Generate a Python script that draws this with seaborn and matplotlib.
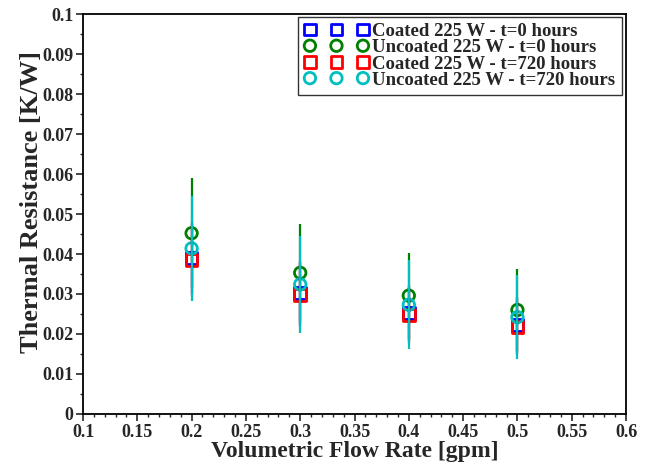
import numpy as np
import pandas as pd
import matplotlib
matplotlib.use('Agg')
import matplotlib.pyplot as plt
import seaborn as sns
from matplotlib.ticker import MultipleLocator, FuncFormatter

# Data
flow_rate = [0.2, 0.3, 0.4, 0.5]

coated_0 = [0.0390, 0.0302, 0.0252, 0.0222]
coated_0_err = [0.0090, 0.0080, 0.0070, 0.0070]

uncoated_0 = [0.0452, 0.0353, 0.0296, 0.0260]
uncoated_0_err = [0.0137, 0.0121, 0.0107, 0.0103]

coated_720 = [0.0385, 0.0298, 0.0248, 0.0217]
coated_720_err = [0.0090, 0.0080, 0.0070, 0.0070]

uncoated_720 = [0.0414, 0.0324, 0.0273, 0.0242]
uncoated_720_err = [0.0131, 0.0121, 0.0111, 0.0105]

series_names = ['Coated 225 W - t=0 hours', 'Uncoated 225 W - t=0 hours',
                'Coated 225 W - t=720 hours', 'Uncoated 225 W - t=720 hours']
series_vals = [coated_0, uncoated_0, coated_720, uncoated_720]
series_errs = [coated_0_err, uncoated_0_err, coated_720_err, uncoated_720_err]
series_colors = ['#0000ff', '#008000', '#ff0000', '#00bfbf']
series_markers = ['s', 'o', 's', 'o']

rows = []
for name, vals, errs in zip(series_names, series_vals, series_errs):
    for x, y, e in zip(flow_rate, vals, errs):
        rows.append({'flow': x, 'resistance': y, 'err': e, 'series': name})
df = pd.DataFrame(rows)

sns.set_theme(style='ticks')
plt.rcParams['font.family'] = ['Liberation Serif', 'DejaVu Serif']
plt.rcParams['font.weight'] = 'bold'

fig = plt.figure(figsize=(6.5, 4.72), dpi=100)
ax = fig.add_axes([0.1277, 0.1229, 0.9631 - 0.1277, 0.9703 - 0.1229])

for name, color, marker in zip(series_names, series_colors, series_markers):
    sub = df[df['series'] == name]
    ax.errorbar(sub['flow'], sub['resistance'], yerr=sub['err'], fmt='none',
                ecolor=color, elinewidth=1.6, capsize=0)
    sns.scatterplot(data=sub, x='flow', y='resistance', ax=ax, marker=marker,
                    s=68, facecolor='none', edgecolor=color, linewidth=2.0,
                    label=name)

ax.set_xlim(0.1, 0.6)
ax.set_ylim(0, 0.1)
ax.xaxis.set_major_locator(MultipleLocator(0.05))
ax.xaxis.set_minor_locator(MultipleLocator(0.01))
ax.yaxis.set_major_locator(MultipleLocator(0.01))
ax.yaxis.set_minor_locator(MultipleLocator(0.005))
ax.xaxis.set_major_formatter(FuncFormatter(lambda v, p: f'{v:g}'))
ax.yaxis.set_major_formatter(FuncFormatter(lambda v, p: f'{v:g}'))
ax.tick_params(which='major', direction='out', length=5, width=1.2, labelsize=13, pad=2)
ax.tick_params(which='minor', direction='out', length=2.5, width=1.0)
for lab in ax.get_xticklabels() + ax.get_yticklabels():
    lab.set_fontweight('bold')
for sp in ax.spines.values():
    sp.set_linewidth(1.3)
    sp.set_color('black')

ax.set_xlabel('Volumetric Flow Rate [gpm]', fontsize=17, fontweight='bold', labelpad=0)
ax.set_ylabel('Thermal Resistance [K/W]', fontsize=19, fontweight='bold')
ax.yaxis.set_label_coords(-0.073, 0.53)

leg = ax.legend(loc='upper right', bbox_to_anchor=(0.992, 0.993),
                scatterpoints=3, scatteryoffsets=[0.5],
                fontsize=13.5, frameon=True, fancybox=False, edgecolor='black',
                borderaxespad=0.0, handletextpad=0.2, labelspacing=-0.05,
                borderpad=0.33, handlelength=3.43)
leg.get_frame().set_linewidth(1.0)
for t in leg.get_texts():
    t.set_fontweight('bold')

fig.savefig('out.png', dpi=100)
